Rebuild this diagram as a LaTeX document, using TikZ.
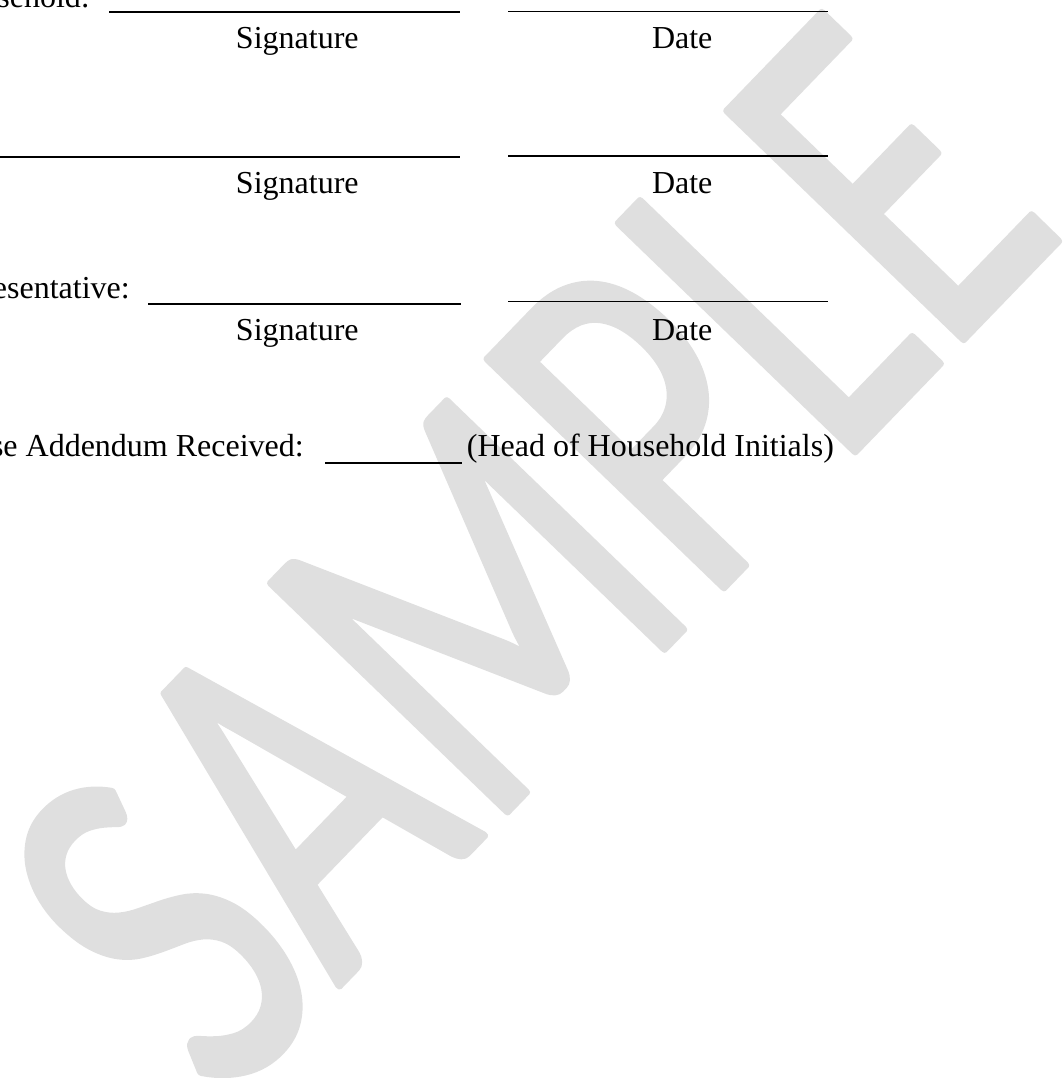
\documentclass[tikz,border=0pt]{standalone}
\usepackage{fontspec}
\setmainfont{Liberation Serif}
\newfontfamily\wmfont[FakeBold=1.5]{Carlito}
\definecolor{wmgray}{RGB}{223,223,223}
\begin{document}
\begin{tikzpicture}[x=1pt,y=-1pt,
  lbl/.style={inner sep=0pt, font=\fontsize{32}{38}\selectfont},
  sigline/.style={line width=2pt},
  dateline/.style={line width=1.5pt},
  wmark/.style={rotate=46, inner sep=0pt, text=wmgray, font=\wmfont\fontsize{512}{512}\selectfont}]
\useasboundingbox (0,0) rectangle (1062,1078);
\clip (0,0) rectangle (1062,1078);
% watermark
\node[wmark] (wm) at (527.5,554) {\special{pdf:literal direct 1 j 1 J}\scalebox{0.72}[1]{SAMPLE}};
% row 1
\node[lbl, anchor=base east] (l1) at (90,8) {sehold:};
\draw[sigline] (109,12) -- (460,12);
\draw[dateline] (508,11.7) -- (828,11.7);
\node[lbl, anchor=base] (s1) at (297.3,48.3) {Signature};
\node[lbl, anchor=base] (d1) at (682.2,48.3) {Date};
% row 2
\draw[sigline] (0,157.3) -- (460,157.3);
\draw[dateline] (508,156) -- (828,156);
\node[lbl, anchor=base] (s2) at (297.3,193.3) {Signature};
\node[lbl, anchor=base] (d2) at (682.2,193.3) {Date};
% row 3
\node[lbl, anchor=base east] (l3) at (130,298.3) {esentative:};
\draw[sigline] (148,304) -- (461,304);
\draw[dateline] (508,301.7) -- (828,301.7);
\node[lbl, anchor=base] (s3) at (297.3,340) {Signature};
\node[lbl, anchor=base] (d3) at (682.2,340) {Date};
% row 4
\node[lbl, anchor=base east] (l4) at (304,456.7) {se Addendum Received:};
\draw[sigline] (325,462.7) -- (461.7,462.7);
\node[lbl, anchor=base west] (h4) at (466.7,456.7) {(Head of Household Initials)};
\end{tikzpicture}
\end{document}
